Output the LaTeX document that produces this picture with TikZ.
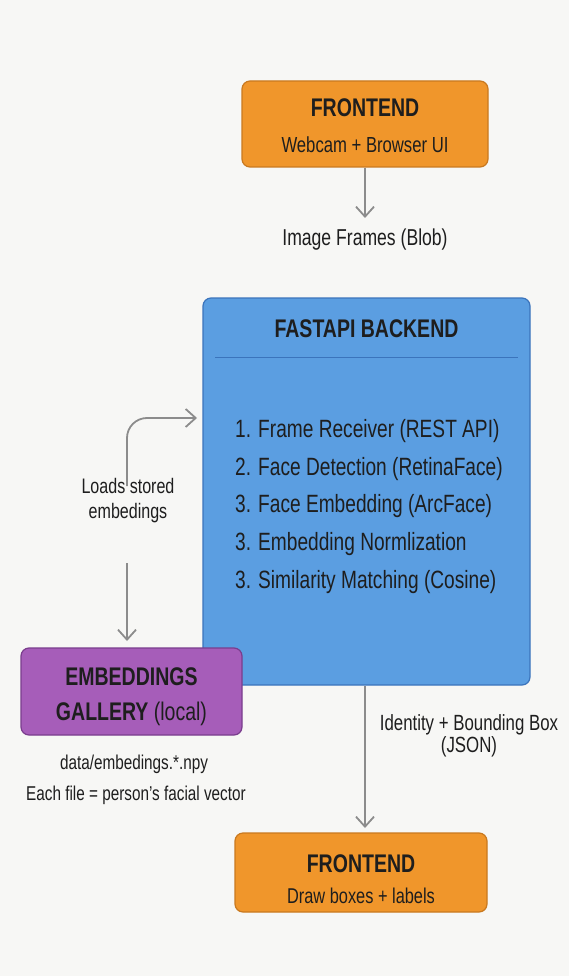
\documentclass[tikz,border=0pt]{standalone}
\usepackage{fontspec}
\setmainfont{Liberation Sans}[FakeStretch=0.765]
\usetikzlibrary{arrows.meta}
\definecolor{bg}{HTML}{F7F7F5}
\definecolor{orfill}{HTML}{F0962B}
\definecolor{ordraw}{HTML}{C9791F}
\definecolor{blfill}{HTML}{5B9EE1}
\definecolor{bldraw}{HTML}{3B74BC}
\definecolor{pufill}{HTML}{A65DB9}
\definecolor{pudraw}{HTML}{7A3D8D}
\definecolor{txt}{HTML}{1E1E1E}
\definecolor{arrc}{HTML}{8C8C8C}
\newcommand{\titlef}{\fontsize{25.5}{30}\selectfont\bfseries}
\newcommand{\subf}{\fontsize{21.8}{26}\selectfont}
\newcommand{\listf}{\fontsize{25}{30}\selectfont}
\newcommand{\smallf}{\fontsize{20}{24}\selectfont}
\begin{document}
\begin{tikzpicture}[x=1pt,y=-1pt,
  box/.style={draw, line width=1.2pt, rounded corners=8pt, inner sep=0pt},
  orbox/.style={box, fill=orfill, draw=ordraw},
  txtnode/.style={text=txt, inner sep=0pt, anchor=base},
  conn/.style={draw=arrc, line width=1.8pt, -{Straight Barb[length=10pt,width=18pt]}}]
\fill[bg] (0,0) rectangle (569,976);
\useasboundingbox (0,0) rectangle (569,976);

% top frontend
\node[orbox, minimum width=246pt, minimum height=86pt] (fe1) at (365,124) {};
\node[txtnode, font=\titlef] (fe1t) at (365,117) {FRONTEND};
\node[txtnode, font=\subf] (fe1s) at (365,153) {Webcam + Browser UI};
\coordinate (t1) at (365,218);
\draw[conn] (fe1.south) -- (t1);
\node[txtnode, font=\fontsize{23}{27}\selectfont] (img) at (365,246) {Image Frames (Blob)};

% backend
\node[box, fill=blfill, draw=bldraw, minimum width=327pt, minimum height=387pt] (be) at (366.5,491.5) {};
\node[txtnode, font=\titlef] (bet) at (366.5,337) {FASTAPI BACKEND};
\draw[bldraw, line width=1pt] (215,357) -- (518,357);
\node[txtnode, anchor=base west, font=\listf] (l1) at (235,437) {1. Frame Receiver (REST API)};
\node[txtnode, anchor=base west, font=\listf] (l2) at (235,475) {2. Face Detection (RetinaFace)};
\node[txtnode, anchor=base west, font=\listf] (l3) at (235,512.5) {3. Face Embedding (ArcFace)};
\node[txtnode, anchor=base west, font=\listf] (l4) at (235,550) {3. Embedding Normlization};
\node[txtnode, anchor=base west, font=\listf] (l5) at (235,588) {3. Similarity Matching (Cosine)};

% gallery
\node[box, fill=pufill, draw=pudraw, minimum width=221pt, minimum height=87pt] (gal) at (131.5,691.5) {};
\node[txtnode, font=\titlef] (galt1) at (131.5,685) {EMBEDDINGS};
\node[txtnode, font=\titlef] (galt2) at (131.5,720) {GALLERY \mdseries(local)};
\node[txtnode, font=\smallf] (gf1) at (134,769) {data/embedings.*.npy};
\node[txtnode, font=\smallf] (gf2) at (136,800) {Each file = person's facial vector};

% loads connector
\node[txtnode, font=\fontsize{21}{25}\selectfont, align=center] (loads) at (128,518) {Loads stored\\embedings};
\coordinate (u0) at (127,486);
\coordinate (u1) at (197,418);
\draw[conn, rounded corners=20pt] (u0) |- (u1);
\coordinate (d0) at (127,563);
\coordinate (d1) at (127,641);
\draw[conn] (d0) -- (d1);

% output
\node[orbox, minimum width=252pt, minimum height=79pt] (fe2) at (361,872.5) {};
\node[txtnode, font=\titlef] (fe2t) at (361,872) {FRONTEND};
\node[txtnode, font=\fontsize{21.4}{25}\selectfont] (fe2s) at (361,903) {Draw boxes + labels};
\coordinate (b1) at (365,686);
\coordinate (b2) at (365,828);
\draw[conn] (b1) -- (b2);
\node[txtnode, font=\fontsize{22}{22}\selectfont, align=center] (idl) at (469,752) {Identity + Bounding Box\\(JSON)};
\end{tikzpicture}
\end{document}
